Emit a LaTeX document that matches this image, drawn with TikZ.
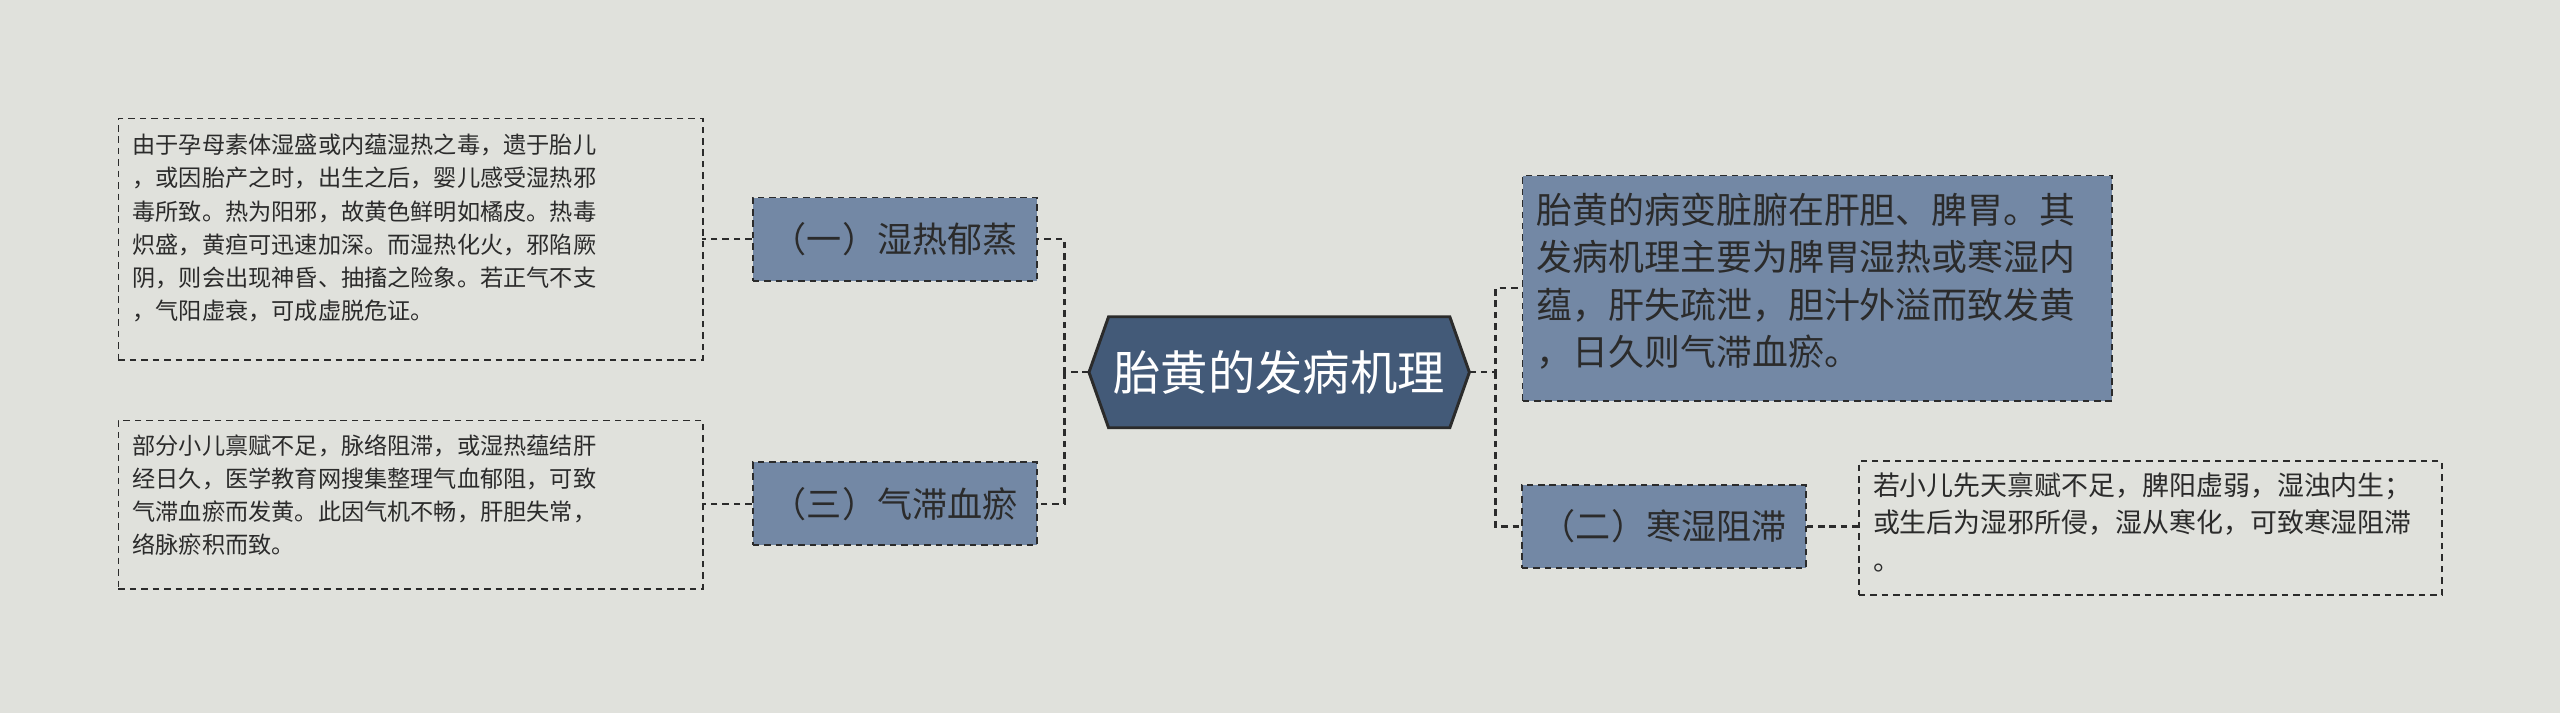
\documentclass[tikz,border=0pt]{standalone}
\usepackage{fontspec}
\setmainfont{Noto Sans CJK SC}
\definecolor{bg}{HTML}{E0E1DC}
\definecolor{mid}{HTML}{7388A5}
\definecolor{core}{HTML}{435A78}
\definecolor{ln}{HTML}{2B2B2B}
\tikzset{
 dsh/.style={dash pattern=on 4pt off 3pt},
 lf/.style={draw=ln,dsh,line width=1.1pt,anchor=north west,align=left,inner sep=0pt,text=ln},
 sub/.style={draw=ln,dsh,line width=1.1pt,fill=mid,minimum height=51pt,minimum width=174pt,inner sep=0pt,font=\fontsize{21.5}{24}\selectfont,text=ln},
 con/.style={draw=ln,dsh,line width=1.4pt}
}
\begin{document}
\begin{tikzpicture}[x=1pt,y=-1pt]
\fill[bg] (0,0) rectangle (1568,437);
\useasboundingbox (0,0) rectangle (1568,437);
\path[draw=ln,line width=1.8pt,fill=core] (667,228) -- (679,194) -- (888,194) -- (900,228) -- (888,262) -- (679,262) -- cycle;
\node[text=white,font=\fontsize{29}{32}\selectfont] (c) at (783.5,228) {胎黄的发病机理};
\coordinate (cl) at (667,228); \coordinate (cr) at (900,228);
% right top
\node[draw=ln,dsh,line width=1.1pt,fill=mid,anchor=north west,minimum width=361pt,minimum height=138pt,inner sep=0pt] (r1) at (932,107) {};
\node[anchor=north west,align=left,inner sep=0pt,font=\fontsize{22}{29}\selectfont,text=ln] at (941,118) {胎黄的病变脏腑在肝胆、脾胃。其\\发病机理主要为脾胃湿热或寒湿内\\蕴，肝失疏泄，胆汁外溢而致发黄\\，日久则气滞血瘀。};
\node[sub] (r2) at (1019,322.5) {（二）寒湿阻滞};
\node[lf,minimum width=357pt,minimum height=82pt] (r2l) at (1138,282) {};
\node[anchor=north west,align=left,inner sep=0pt,font=\fontsize{16.5}{23}\selectfont,text=ln] at (1147,289) {若小儿先天禀赋不足，脾阳虚弱，湿浊内生；\\或生后为湿邪所侵，湿从寒化，可致寒湿阻滞\\。};
% left
\node[sub] (l1) at (548,146.5) {（一）湿热郁蒸};
\node[sub] (l3) at (548,308.5) {（三）气滞血瘀};
\node[lf,minimum width=358pt,minimum height=148pt] (l1l) at (72,72) {};
\node[anchor=north west,align=left,inner sep=0pt,font=\fontsize{14.2}{20.3}\selectfont,text=ln] at (81,82) {由于孕母素体湿盛或内蕴湿热之毒，遗于胎儿\\，或因胎产之时，出生之后，婴儿感受湿热邪\\毒所致。热为阳邪，故黄色鲜明如橘皮。热毒\\炽盛，黄疸可迅速加深。而湿热化火，邪陷厥\\阴，则会出现神昏、抽搐之险象。若正气不支\\，气阳虚衰，可成虚脱危证。};
\node[lf,minimum width=358pt,minimum height=103pt] (l3l) at (72,257) {};
\node[anchor=north west,align=left,inner sep=0pt,font=\fontsize{14.2}{20.3}\selectfont,text=ln] at (81,266) {部分小儿禀赋不足，脉络阻滞，或湿热蕴结肝\\经日久，医学教育网搜集整理气血郁阻，可致\\气滞血瘀而发黄。此因气机不畅，肝胆失常，\\络脉瘀积而致。};
% connectors
\draw[con] (cl) -- (652,228) |- (l1.east);
\draw[con] (652,228) |- (l3.east);
\draw[con] (cr) -- (916,228) |- (r1.west);
\draw[con] (916,228) |- (r2.west);
\draw[con] (l1.west) -- (430,146.5);
\draw[con] (l3.west) -- (430,308.5);
\draw[con] (r2.east) -- (1138,322.5);
\end{tikzpicture}
\end{document}
